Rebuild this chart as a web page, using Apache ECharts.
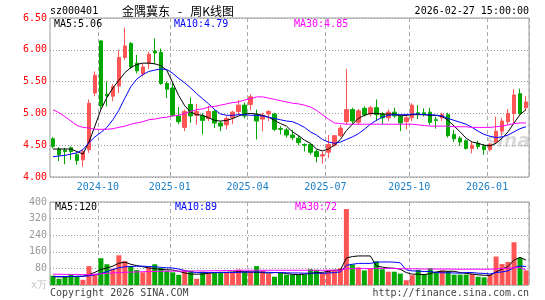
<!DOCTYPE html>
<html><head><meta charset="utf-8">
<script src="https://cdn.jsdelivr.net/npm/echarts@6/dist/echarts.min.js"></script>
<style>html,body{margin:0;padding:0;background:#fff}#c{width:545px;height:300px}</style>
</head><body><div id="c"></div>
<script>
const dates = [
'2024-08-16','2024-08-23','2024-08-30','2024-09-06','2024-09-13','2024-09-20','2024-09-27','2024-09-30',
'2024-10-11','2024-10-18','2024-10-25','2024-11-01','2024-11-08','2024-11-15','2024-11-22','2024-11-29','2024-12-06','2024-12-13','2024-12-20','2024-12-27',
'2025-01-03','2025-01-10','2025-01-17','2025-01-24','2025-01-27','2025-02-07','2025-02-14','2025-02-21','2025-02-28','2025-03-07','2025-03-14','2025-03-21','2025-03-28',
'2025-04-03','2025-04-11','2025-04-18','2025-04-25','2025-04-30','2025-05-09','2025-05-16','2025-05-23','2025-05-30','2025-06-06','2025-06-13','2025-06-20','2025-06-27',
'2025-07-04','2025-07-11','2025-07-18','2025-07-25','2025-08-01','2025-08-08','2025-08-15','2025-08-22','2025-08-29','2025-09-05','2025-09-12','2025-09-19','2025-09-26','2025-09-30',
'2025-10-10','2025-10-17','2025-10-24','2025-10-31','2025-11-07','2025-11-14','2025-11-21','2025-11-28','2025-12-05','2025-12-12','2025-12-19','2025-12-26','2025-12-31',
'2026-01-09','2026-01-16','2026-01-23','2026-01-30','2026-02-06','2026-02-13','2026-02-27'];

const opens  = [4.60,4.44,4.42,4.46,4.35,4.27,4.43,5.32,6.14,5.30, 5.27,5.43,5.88,6.10,5.79,5.62,5.79,5.98,5.96,5.47, 5.40,4.96,4.78,5.14,4.97,4.96,4.92,5.03,4.85,4.82, 4.93,5.03,5.13,5.14,4.98,4.91,4.99,4.99,4.76,4.74, 4.66,4.61,4.51,4.51,4.40,4.33,4.39,4.50,4.65,4.87, 5.06,4.86,5.08,4.99,5.09,4.99,4.93,5.02,4.95,4.87, 4.93,5.01,5.01,5.02,4.90,4.93,4.98,4.67,4.61,4.57, 4.45,4.53,4.48,4.43,4.55,4.72,4.87,5.00,5.31,5.09];
const closes = [4.48,4.35,4.40,4.40,4.26,4.40,5.16,5.60,5.12,5.28, 5.42,5.88,6.06,5.73,5.67,5.73,5.93,5.95,5.47,5.38, 4.97,4.87,5.03,4.96,5.03,4.89,5.03,4.85,4.80,4.92, 5.02,5.13,4.96,5.26,4.88,4.97,5.03,4.75,4.75,4.66, 4.62,4.54,4.50,4.39,4.32,4.35,4.51,4.65,4.77,5.06, 4.88,5.04,4.98,5.09,4.98,4.93,5.02,4.96,4.85,4.93, 5.13,4.99,4.99,4.86,4.89,4.98,4.65,4.60,4.55,4.45, 4.50,4.48,4.43,4.52,4.72,4.88,5.00,5.29,5.00,5.18];
const lows   = [4.45,4.25,4.20,4.27,4.19,4.16,4.38,5.27,5.07,5.11, 5.19,5.32,5.84,5.70,5.63,5.58,5.70,5.77,5.45,5.24, 4.95,4.83,4.72,4.85,4.82,4.67,4.88,4.77,4.72,4.75, 4.83,4.98,4.92,5.05,4.59,4.72,4.88,4.72,4.67,4.62, 4.58,4.50,4.40,4.35,4.23,4.21,4.30,4.48,4.63,4.82, 4.82,4.82,4.95,4.95,4.88,4.83,4.88,4.93,4.72,4.75, 4.88,4.91,4.95,4.82,4.76,4.88,4.62,4.55,4.49,4.43, 4.37,4.44,4.35,4.40,4.53,4.65,4.82,4.83,4.98,5.04];
const highs  = [4.63,4.47,4.46,4.48,4.38,4.43,5.22,5.66,6.15,5.50, 5.46,6.00,6.35,6.12,5.92,5.78,5.97,6.18,6.02,5.50, 5.48,5.10,5.06,5.25,5.15,5.00,5.12,5.06,4.88,4.96, 5.04,5.21,5.17,5.30,5.06,5.01,5.05,5.01,4.80,4.77, 4.74,4.66,4.53,4.53,4.43,4.40,4.66,4.66,4.82,5.70, 5.09,5.07,5.11,5.12,5.22,5.02,5.06,5.09,4.98,4.98, 5.16,5.13,5.08,5.09,4.95,5.01,5.01,4.74,4.64,4.59, 4.56,4.57,4.52,4.53,4.95,4.93,5.07,5.38,5.39,5.27];
const volumes = [45,30,38,53,42,25,91,50,129,100, 78,143,115,91,72,61,86,100,82,69, 61,49,71,69,30,64,61,61,61,61, 61,74,63,64,91,69,53,40,61,50, 50,50,50,76,73,58,73,73,81,366, 99,85,70,81,114,76,64,64,55,23, 47,73,53,81,61,70,66,50,50,50, 53,40,37,50,137,101,111,206,131,70];

const ma5  = [4.44,4.44,4.44,4.44,4.40,4.36,4.55,4.80,5.06,5.25, 5.40,5.52,5.64,5.72,5.77,5.79,5.79,5.78,5.75,5.68, 5.48,5.28,5.12,5.02,4.98,4.97,4.93,4.89,4.88,4.89, 4.92,4.96,4.99,5.00,4.99,4.97,4.94,4.89,4.84,4.80, 4.71,4.65,4.58,4.53,4.44,4.41,4.44,4.50,4.59,4.73, 4.83,4.92,4.97,5.00,5.00,4.99,4.99,4.99,4.96,4.97, 4.98,4.98,4.98,4.97,4.97,4.95,4.89,4.80,4.71,4.61, 4.55,4.53,4.50,4.49,4.53,4.61,4.71,4.85,4.98,5.06];
const ma10 = [4.32,4.33,4.34,4.36,4.38,4.43,4.54,4.63,4.70,4.78, 4.90,5.05,5.24,5.42,5.54,5.61,5.66,5.68,5.70,5.69, 5.63,5.55,5.48,5.40,5.31,5.23,5.15,5.06,4.99,4.97, 4.97,4.98,4.98,4.97,4.97,4.96,4.94,4.92,4.90,4.88, 4.87,4.83,4.78,4.71,4.66,4.59,4.55,4.53,4.55,4.59, 4.63,4.68,4.75,4.83,4.89,4.94,4.97,4.98,4.98,4.98, 4.99,4.99,4.98,4.98,4.97,4.96,4.92,4.89,4.86,4.83, 4.78,4.72,4.67,4.64,4.62,4.63,4.66,4.71,4.76,4.79];
const ma30 = [5.06,5.01,4.95,4.88,4.81,4.78,4.77,4.75,4.75,4.75, 4.76,4.78,4.80,4.83,4.85,4.87,4.90,4.91,4.93,4.94, 4.96,4.97,5.00,5.03,5.06,5.07,5.10,5.11,5.13,5.15, 5.17,5.18,5.21,5.23,5.26,5.26,5.24,5.22,5.20,5.18, 5.16,5.15,5.13,5.10,5.05,4.98,4.91,4.85,4.84,4.83, 4.83,4.83,4.83,4.83,4.83,4.83,4.83,4.83,4.83,4.83, 4.83,4.82,4.81,4.80,4.80,4.80,4.80,4.79,4.79,4.79, 4.78,4.78,4.78,4.78,4.79,4.80,4.82,4.84,4.85,4.85];
const vma5  = [40,39,39,41,41,42,50,61,75,82, 91,105,110,100,93,88,82,79,75,74, 72,66,58,53,52,53,57,60,61,61, 63,64,64,63,61,60,57,60,60,55, 51,50,52,55,60,61,66,71,72,130, 137,140,140,140,92,86,82,81,76,60, 52,52,50,55,63,67,66,66,60,56, 53,49,47,46,63,76,89,120,133,120];
const vma10 = [41,41,41,41,42,42,44,49,55,64, 75,83,88,89,91,91,89,88,85,83, 82,77,70,63,60,60,60,60,60,60, 60,61,62,62,63,62,61,60,60,59, 58,58,57,57,57,56,58,60,63,95, 100,104,104,104,110,111,111,110,107,73, 68,67,65,65,60,59,59,58,57,60, 60,57,56,53,60,63,68,84,92,89];
const vma30 = [52,52,51,51,51,50,50,52,54,56, 58,60,61,62,63,64,65,65,66,66, 67,67,67,67,68,68,68,69,69,70, 70,71,71,71,71,71,71,71,71,71, 71,71,71,71,71,71,71,71,71,79, 79,79,79,79,80,80,80,79,79,78, 78,78,77,77,77,77,77,76,76,76, 76,76,76,76,78,79,81,83,84,72];

const priceTicks = [4.00, 4.50, 5.00, 5.50, 6.00, 6.50];
const volTicks = [0, 80, 160, 240, 320, 400];
const monthTicks = ['2024-10','2025-01','2025-04','2025-07','2025-10','2026-01'];

const monthIdx = monthTicks.map(m => dates.findIndex(d => d.startsWith(m)));
const UP = '#ff5555', DOWN = '#00a800';
const MONO = '"DejaVu Sans Mono", monospace';

const chart = echarts.init(document.getElementById('c'), null, {renderer: 'canvas'});
const splitX = {show: true, interval: (i) => monthIdx.includes(i), lineStyle: {color: '#aaa', type: [4, 3], width: 1}};
const lineS = (name, data, color, xi) => ({
  name, type: 'line', data, xAxisIndex: xi, yAxisIndex: xi, showSymbol: false, symbol: 'none',
  smooth: false, lineStyle: {color, width: 1}, z: 5, silent: true
});
const option = {
  animation: false,
  backgroundColor: '#fff',
  grid: [
    {left: 50, top: 18, width: 479, height: 159, show: true, borderColor: '#999', borderWidth: 1, backgroundColor: 'transparent'},
    {left: 50, top: 202, width: 479, height: 83, show: true, borderColor: '#999', borderWidth: 1, backgroundColor: 'transparent'}
  ],
  xAxis: [
    {type: 'category', gridIndex: 0, data: dates, boundaryGap: true,
     axisLine: {show: false}, axisTick: {show: false},
     axisLabel: {show: true, interval: (i) => monthIdx.includes(i), formatter: v => v.slice(0, 7),
       color: '#1e80c8', fontFamily: MONO, fontSize: 10, margin: 5, padding: [0, 6, 0, 0]},
     splitLine: splitX},
    {type: 'category', gridIndex: 1, data: dates, boundaryGap: true,
     axisLine: {show: false}, axisTick: {show: false}, axisLabel: {show: false},
     splitLine: splitX}
  ],
  yAxis: [
    {type: 'value', gridIndex: 0, min: priceTicks[0], max: priceTicks[priceTicks.length - 1],
     interval: priceTicks[1] - priceTicks[0],
     axisLine: {show: false}, axisTick: {show: false},
     axisLabel: {color: '#ff0000', fontFamily: MONO, fontSize: 10, margin: 3, formatter: v => v.toFixed(2)},
     splitLine: {show: true, lineStyle: {color: '#999', type: [1, 2], width: 1}}},
    {type: 'value', gridIndex: 1, min: volTicks[0], max: volTicks[volTicks.length - 1],
     interval: volTicks[1] - volTicks[0],
     axisLine: {show: false}, axisTick: {show: false},
     axisLabel: {color: '#999', fontFamily: MONO, fontSize: 10, margin: 3,
       formatter: v => v === 0 ? '{u|x万}' : String(v),
       rich: {u: {color: '#c4c4c4', fontFamily: MONO, fontSize: 10}}},
     splitLine: {show: true, lineStyle: {color: '#999', type: [1, 2], width: 1}}}
  ],
  series: [
    {type: 'candlestick', xAxisIndex: 0, yAxisIndex: 0, barWidth: 4,
     data: dates.map((d, i) => [opens[i], closes[i], lows[i], highs[i]]),
     itemStyle: {color: UP, color0: DOWN, borderColor: UP, borderColor0: DOWN, borderWidth: 1}},
    lineS('MA5', ma5, '#000000', 0),
    lineS('MA10', ma10, '#0000ff', 0),
    lineS('MA30', ma30, '#ff00ff', 0),
    {type: 'bar', xAxisIndex: 1, yAxisIndex: 1, barWidth: 5,
     data: volumes.map((v, i) => ({value: v, itemStyle: {color: closes[i] >= opens[i] ? UP : DOWN}}))},
    lineS('VMA5', vma5, '#000000', 1),
    lineS('VMA10', vma10, '#0000ff', 1),
    lineS('VMA30', vma30, '#ff00ff', 1)
  ],
  graphic: [
    {type: 'text', z: 100, style: {x: 50, y: 11, text: 'sz000401', font: '10px ' + MONO, fill: '#000', verticalAlign: 'middle'}},
    {type: 'text', z: 100, style: {x: 122, y: 11, text: '金隅冀东   -   周K线图', font: '12px "Noto Sans CJK SC"', fill: '#000', verticalAlign: 'middle'}},
    {type: 'text', z: 100, style: {x: 529, y: 11, text: dates[dates.length - 1] + ' 15:00:00', font: '10px ' + MONO, fill: '#000', align: 'right', verticalAlign: 'middle'}},
    {type: 'text', z: 100, style: {x: 54, y: 24, text: 'MA5:' + ma5[ma5.length - 1].toFixed(2), font: '10px ' + MONO, fill: '#000', verticalAlign: 'middle'}},
    {type: 'text', z: 100, style: {x: 174, y: 24, text: 'MA10:' + ma10[ma10.length - 1].toFixed(2), font: '10px ' + MONO, fill: '#0000ff', verticalAlign: 'middle'}},
    {type: 'text', z: 100, style: {x: 294, y: 24, text: 'MA30:' + ma30[ma30.length - 1].toFixed(2), font: '10px ' + MONO, fill: '#ff00ff', verticalAlign: 'middle'}},
    {type: 'text', z: 100, style: {x: 55, y: 207, text: 'MA5:' + vma5[vma5.length - 1], font: '10px ' + MONO, fill: '#000', verticalAlign: 'middle'}},
    {type: 'text', z: 100, style: {x: 175, y: 207, text: 'MA10:' + vma10[vma10.length - 1], font: '10px ' + MONO, fill: '#0000ff', verticalAlign: 'middle'}},
    {type: 'text', z: 100, style: {x: 295, y: 207, text: 'MA30:' + vma30[vma30.length - 1], font: '10px ' + MONO, fill: '#ff00ff', verticalAlign: 'middle'}},
    {type: 'text', z: 100, style: {x: 50, y: 293, text: 'Copyright 2026 SINA.COM', font: '10px ' + MONO, fill: '#444', verticalAlign: 'middle'}},
    {type: 'text', z: 100, style: {x: 529, y: 293, text: 'http://finance.sina.com.cn', font: '10px ' + MONO, fill: '#444', align: 'right', verticalAlign: 'middle'}},
    {type: 'text', z: 1, silent: true, style: {x: 508, y: 142, text: 'sina', font: 'italic bold 19px "DejaVu Sans"', fill: 'rgba(170,170,170,0.45)', align: 'center', verticalAlign: 'middle'}}
  ]
};
chart.setOption(option);
</script>
</body></html>
